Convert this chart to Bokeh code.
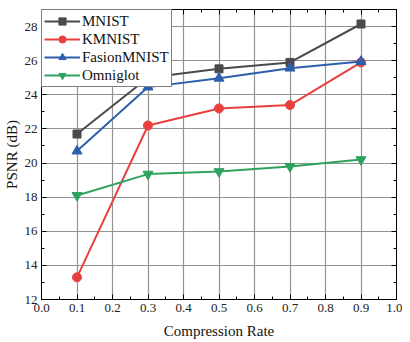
from bokeh.plotting import figure
from bokeh.models import LinearAxis, Range1d, FixedTicker, Legend, CustomJSTickFormatter
from bokeh.embed import file_html
from bokeh.resources import INLINE

rates = [0.1, 0.3, 0.5, 0.7, 0.9]
mnist = [21.7, 25.0, 25.52, 25.9, 28.15]
kmnist = [13.3, 22.2, 23.2, 23.4, 25.9]
fasion = [20.7, 24.45, 24.97, 25.56, 25.95]
omniglot = [18.1, 19.35, 19.5, 19.8, 20.2]

x_ticks = [0.0, 0.1, 0.2, 0.3, 0.4, 0.5, 0.6, 0.7, 0.8, 0.9, 1.0]
y_ticks = [12, 14, 16, 18, 20, 22, 24, 26, 28]

FONT = "'Liberation Serif', serif"

p = figure(frame_width=355, frame_height=290, output_backend="svg", toolbar_location=None,
           x_range=Range1d(0, 1.0), y_range=Range1d(12, 29),
           min_border_left=0, min_border_right=6, min_border_top=9, min_border_bottom=0,
           background_fill_color="white")
p.outline_line_color = "black"
p.outline_line_width = 1

def style_axis(ax, show_labels=True):
    ax.axis_line_color = "black"
    ax.axis_line_width = 1
    ax.major_tick_in = 5
    ax.major_tick_out = 0
    ax.minor_tick_in = 3
    ax.minor_tick_out = 0
    ax.major_tick_line_color = "black"
    ax.minor_tick_line_color = "black"
    ax.major_label_text_font = FONT
    ax.major_label_text_font_size = "13px"
    ax.major_label_text_color = "#222222"
    ax.axis_label_text_font = FONT
    ax.axis_label_text_font_size = "15px"
    ax.axis_label_text_font_style = "normal"
    ax.axis_label_text_color = "#111111"
    ax.major_label_standoff = 4
    if not show_labels:
        ax.formatter = CustomJSTickFormatter(code="return ''")
        ax.major_label_standoff = 0
        ax.axis_label = None

p.xaxis.ticker = FixedTicker(ticks=x_ticks, minor_ticks=[i * 0.05 for i in range(21)])
p.yaxis.ticker = FixedTicker(ticks=y_ticks, minor_ticks=list(range(12, 30)))
p.xaxis.axis_label = "Compression Rate"
p.yaxis.axis_label = "PSNR (dB)"
p.xaxis.axis_label_standoff = 8
p.yaxis.axis_label_standoff = 2
style_axis(p.xaxis[0])
style_axis(p.yaxis[0])
p.xaxis[0].major_label_overrides = {t: f"{t:.1f}" for t in x_ticks}

top = LinearAxis(ticker=FixedTicker(ticks=x_ticks, minor_ticks=[i * 0.05 for i in range(21)]))
style_axis(top, show_labels=False)
p.add_layout(top, "above")
right = LinearAxis(ticker=FixedTicker(ticks=y_ticks, minor_ticks=list(range(12, 30))))
style_axis(right, show_labels=False)
p.add_layout(right, "right")

p.xgrid.ticker = FixedTicker(ticks=x_ticks)
p.ygrid.ticker = FixedTicker(ticks=y_ticks)
p.grid.grid_line_color = "#939393"
p.grid.grid_line_width = 1.2

series = [
    ("MNIST", mnist, "#4a4a4a", "square", 8),
    ("KMNIST", kmnist, "#e8403f", "circle", 9),
    ("FasionMNIST", fasion, "#2e5fae", "triangle", 10),
    ("Omniglot", omniglot, "#2ea35f", "inverted_triangle", 10),
]
items = []
for name, vals, col, marker, size in series:
    l = p.line(rates, vals, line_color=col, line_width=2)
    s = p.scatter(rates, vals, marker=marker, size=size, fill_color=col, line_color=col)
    items.append((name, [l, s]))

leg = Legend(items=items, location="top_left")
leg.label_text_font = FONT
leg.label_text_font_size = "15px"
leg.label_text_color = "#111111"
leg.border_line_color = "black"
leg.border_line_width = 1
leg.background_fill_alpha = 1.0
leg.margin = 0
leg.padding = 2
leg.spacing = 0
leg.glyph_width = 36
leg.glyph_height = 18
leg.label_height = 18
leg.label_standoff = 2
p.add_layout(leg, "center")

open("out.html", "w").write(file_html(p, INLINE))
